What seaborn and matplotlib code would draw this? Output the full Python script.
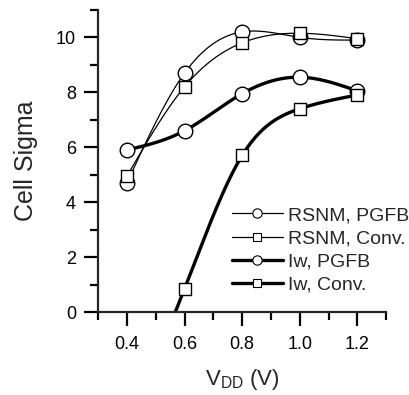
import numpy as np
import pandas as pd
import matplotlib
matplotlib.use("Agg")
import matplotlib.pyplot as plt
from matplotlib.lines import Line2D
import seaborn as sns

# ---- data ----
vdd = [0.4, 0.6, 0.8, 1.0, 1.2]
rsnm_pgfb = [4.7, 8.7, 10.2, 10.0, 9.9]
rsnm_conv = [4.95, 8.2, 9.8, 10.15, 9.95]
iw_pgfb = [5.9, 6.6, 7.95, 8.55, 8.05]
iw_conv = [-4.2, 0.85, 5.7, 7.4, 7.9]   # 0.4 V point is below the axis (clipped)

series_names = ["RSNM, PGFB", "RSNM, Conv.", "Iw, PGFB", "Iw, Conv."]
x_ticks = [0.4, 0.6, 0.8, 1.0, 1.2]
y_ticks = [0, 2, 4, 6, 8, 10]


def natural_spline(x, y, n=300):
    x = np.asarray(x, float)
    y = np.asarray(y, float)
    k = len(x)
    h = np.diff(x)
    A = np.zeros((k, k))
    b = np.zeros(k)
    A[0, 0] = 1
    A[-1, -1] = 1
    for i in range(1, k - 1):
        A[i, i - 1] = h[i - 1]
        A[i, i] = 2 * (h[i - 1] + h[i])
        A[i, i + 1] = h[i]
        b[i] = 6 * ((y[i + 1] - y[i]) / h[i] - (y[i] - y[i - 1]) / h[i - 1])
    M = np.linalg.solve(A, b)
    xs = np.linspace(x[0], x[-1], n)
    idx = np.clip(np.searchsorted(x, xs) - 1, 0, k - 2)
    x0, x1 = x[idx], x[idx + 1]
    hh = x1 - x0
    ys = (M[idx] * (x1 - xs) ** 3 / (6 * hh) + M[idx + 1] * (xs - x0) ** 3 / (6 * hh)
          + (y[idx] - M[idx] * hh ** 2 / 6) * (x1 - xs) / hh
          + (y[idx + 1] - M[idx + 1] * hh ** 2 / 6) * (xs - x0) / hh)
    return xs, ys


sns.set_style("ticks")
plt.rcParams["font.family"] = ["Liberation Sans", "DejaVu Sans"]
plt.rcParams["mathtext.fontset"] = "custom"
plt.rcParams["mathtext.rm"] = "Liberation Sans"
plt.rcParams["mathtext.it"] = "Liberation Sans:italic"

fig = plt.figure(figsize=(4.09, 3.95), dpi=100)
ax = fig.add_axes([0.24, 0.21, 0.704, 0.765])

styles = [
    (rsnm_pgfb, 0.9, "o", 10.5),
    (rsnm_conv, 0.9, "s", 9.0),
    (iw_pgfb, 2.4, "o", 10.5),
    (iw_conv, 2.4, "s", 9.0),
]

# lines
for vals, lw, mk, ms in styles:
    xs, ys = natural_spline(vdd, vals)
    sns.lineplot(x=xs, y=ys, ax=ax, color="black", linewidth=lw, zorder=2,
                 estimator=None, sort=False)

# markers: circles first, squares on top
for order in ["o", "s"]:
    for vals, lw, mk, ms in styles:
        if mk != order:
            continue
        df = pd.DataFrame({"x": vdd, "y": vals})
        sns.scatterplot(data=df, x="x", y="y", ax=ax, marker=mk, s=ms ** 2,
                        facecolor="white", edgecolor="black", linewidth=1.0,
                        zorder=3)

ax.set_xlim(0.3, 1.3)
ax.set_ylim(0, 11)
ax.set_xticks(x_ticks)
ax.set_xticklabels([f"{v:.1f}" for v in x_ticks])
ax.set_xticks(np.arange(0.3, 1.31, 0.1), minor=True)
ax.set_yticks(y_ticks)
ax.set_yticks(np.arange(0, 11.1, 1), minor=True)

for s in ["top", "right"]:
    ax.spines[s].set_visible(False)
for s in ["left", "bottom"]:
    ax.spines[s].set_linewidth(1.6)
ax.tick_params(which="major", direction="out", length=10, width=1.6,
               labelsize=13, color="black", labelcolor="black")
ax.tick_params(axis="x", which="major", pad=7)
ax.tick_params(axis="y", which="major", pad=6)
ax.tick_params(which="minor", direction="out", length=5.5, width=1.6, color="black")

ax.set_ylabel("Cell Sigma", fontsize=18, labelpad=13)
ax.set_xlabel(r"V$_{\mathrm{DD}}$ (V)", fontsize=16, labelpad=10)

handles = []
for (vals, lw, mk, ms), name in zip(styles, series_names):
    handles.append(Line2D([], [], color="black", linewidth=lw, marker=mk,
                          markersize=6.7 if mk == "o" else 5.2,
                          markerfacecolor="white", markeredgecolor="black",
                          markeredgewidth=0.8))
fig.legend(handles, series_names, loc="center left",
           bbox_to_anchor=(0.553, 0.367), frameon=False, fontsize=14,
           handlelength=2.6, handletextpad=0.26, labelspacing=0.28,
           borderaxespad=0, borderpad=0.3)

fig.savefig("out.png", dpi=100)
